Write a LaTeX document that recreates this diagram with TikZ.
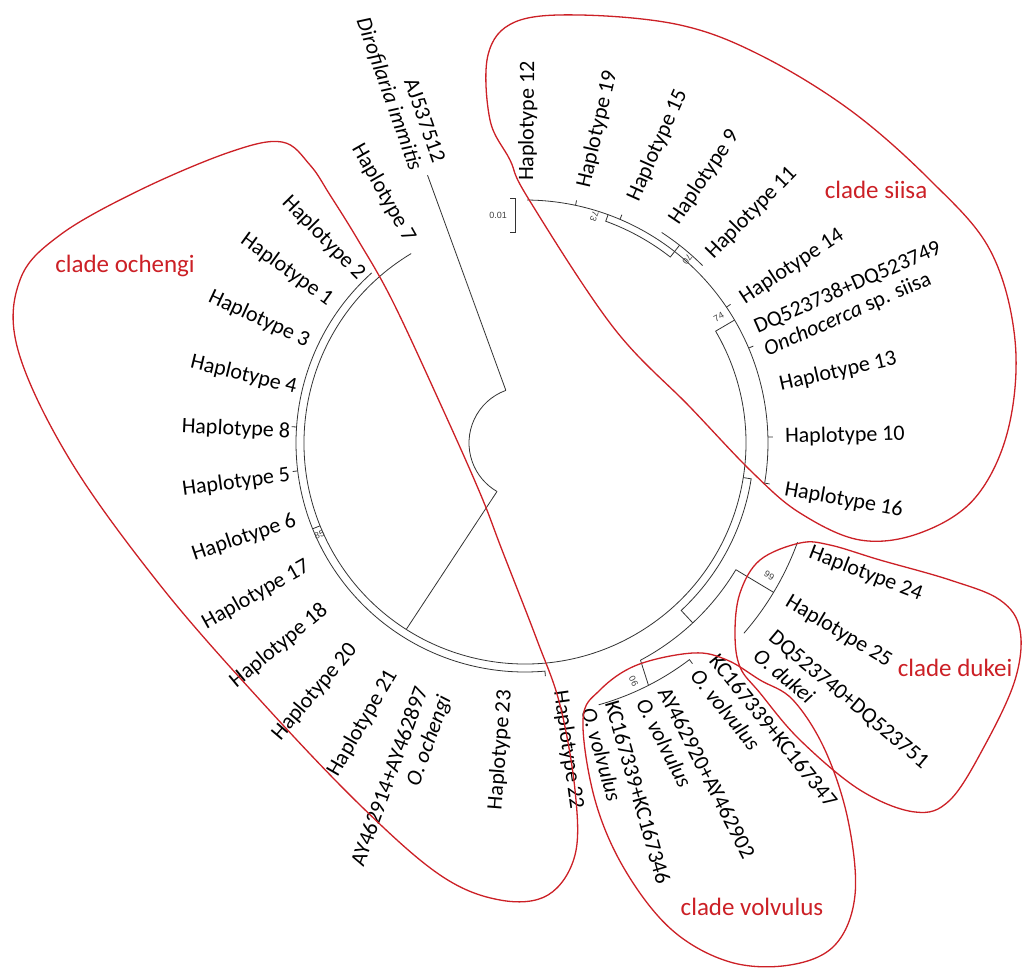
\documentclass[tikz,border=0pt]{standalone}
\usepackage{fontspec}
\setmainfont{Carlito}
\newfontfamily\bootfont{Liberation Sans}
\definecolor{cladered}{RGB}{204,32,38}

% leaf labels: name, angle, radius, text
\newcommand{\leafR}[4]{\node[leaf,anchor=west,align=left,rotate=#2] (#1) at (#2:#3) {#4};}
\newcommand{\leafL}[4]{\node[leaf,anchor=east,align=right,rotate=#2-180] (#1) at (#2:#3) {#4};}

\begin{document}
\begin{tikzpicture}[x=1pt,y=-1pt,
    branch/.style={draw=black!80,line width=0.8pt},
    leaf/.style={font=\fontsize{22}{24.5}\selectfont,inner sep=0pt},
    boot/.style={font=\bootfont\fontsize{9}{10}\selectfont,text=black!75,inner sep=0pt},
    clade/.style={draw=cladered,line width=1.3pt},
    clade label/.style={text=cladered,font=\fontsize{25}{28}\selectfont}]
\useasboundingbox[fill=white] (0,0) rectangle (1026,968);

\begin{scope}[shift={(525,443)},yscale=-1]
    \coordinate (root1) at (110:56);
    \coordinate (root2) at (240:56);
    \coordinate (outtip) at (110:285);
    \coordinate (ingroup) at (237.5:221);
    \coordinate (n74) at (30.4:221);
    \coordinate (n74out) at (30.4:243);
    \coordinate (nright) at (351:221);
    \coordinate (nrightout) at (351:229);
    \coordinate (nlow) at (313:229);
    \coordinate (nlowout) at (313:246);
    \coordinate (ndukei) at (329:246);
    \coordinate (ndukeiout) at (329:290);
    \coordinate (nvolv) at (298:246);
    \coordinate (nvolvout) at (297:272);
    % root and main arcs
    \draw[branch] (root1) arc[start angle=110,end angle=240,radius=56];
    \draw[branch] (root1) -- (outtip);
    \draw[branch] (root2) -- (ingroup);
    \draw[branch] (121:221) arc[start angle=121,end angle=390.4,radius=221];
    \draw[branch] (132:229) arc[start angle=132,end angle=275,radius=229] -- (275:234);
    \draw[branch] (202:221) -- (202:229);
    \foreach \a in {176,187}
        \draw[branch] (\a:229) -- (\a:234);
    % right side
    \draw[branch] (nright) -- (nrightout) arc[start angle=351,end angle=313,radius=229] -- (nlowout);
    \draw[branch] (nvolv) arc[start angle=298,end angle=329,radius=246];
    \draw[branch] (ndukei) -- (ndukeiout);
    \draw[branch] (319:290) arc[start angle=319,end angle=340,radius=290];
    \draw[branch] (nvolv) -- (nvolvout);
    \draw[branch] (285.7:272) arc[start angle=285.7,end angle=307.2,radius=272] -- (307.2:277);
    % clade siisa
    \draw[branch] (n74) -- (n74out);
    \draw[branch] (89.5:243) arc[start angle=89.5,end angle=-9.5,radius=243] -- (-9.5:248);
    \foreach \a in {78,67,34,23,1.4}
        \draw[branch] (\a:243) -- (\a:248);
    \draw[branch] (70:243) -- (70:236) arc[start angle=70,end angle=52,radius=236] -- (52:251);
    \draw[branch] (57:251) arc[start angle=57,end angle=45,radius=251];
    % bootstrap values
    \node[boot,rotate=-110] (b73) at (73:237) {73};
    \node[boot,rotate=-128] (b70) at (48.5:245) {70};
    \node[boot,rotate=30] (b74) at (33:231) {74};
    \node[boot,rotate=22] (b85) at (204:225) {85};
    \node[boot,rotate=-31] (b99) at (-28.5:278) {99};
    \node[boot,rotate=118] (b90) at (-65.5:262) {90};
    % leaves
    \leafR{h12}{89.5}{262}{Haplotype 12}
    \leafR{h19}{77}{262}{Haplotype 19}
    \leafR{h15}{66}{266}{Haplotype 15}
    \leafR{h9}{56}{266}{Haplotype 9}
    \leafR{h11}{45.5}{263}{Haplotype 11}
    \leafR{h14}{33.5}{260}{Haplotype 14}
    \leafR{dqsiisa}{23.7}{257}{DQ523738+DQ523749\\\textit{Onchocerca} sp. siisa}
    \leafR{h13}{12.8}{261}{Haplotype 13}
    \leafR{h10}{1.3}{260}{Haplotype 10}
    \leafR{h16}{-10.2}{264}{Haplotype 16}
    \leafR{h24}{-21}{305}{Haplotype 24}
    \leafR{h25}{-31}{306}{Haplotype 25}
    \leafR{dqdukei}{-40}{312}{DQ523740+DQ523751\\\textit{O. dukei}}
    \leafR{kc47}{-51}{285}{KC167339+KC167347\\\textit{O. volvulus}}
    \leafR{ay02}{-63}{282}{AY462920+AY462902\\\textit{O. volvulus}}
    \leafR{kc46}{-74}{272}{KC167339+KC167346\\\textit{O. volvulus}}
    \leafR{h22}{-82}{250}{Haplotype 22}
    \leafL{diro}{109.5}{294}{AJ537512\\\textit{Dirofilaria immitis}}
    \leafL{h7}{119.5}{233}{Haplotype 7}
    \leafL{h2}{134.5}{233}{Haplotype 2}
    \leafL{h1}{144}{240}{Haplotype 1}
    \leafL{h3}{155}{239}{Haplotype 3}
    \leafL{h4}{166.4}{235}{Haplotype 4}
    \leafL{h8}{177.3}{235}{Haplotype 8}
    \leafL{h5}{187.8}{237}{Haplotype 5}
    \leafL{h6}{198.6}{242}{Haplotype 6}
    \leafL{h17}{209.4}{249}{Haplotype 17}
    \leafL{h18}{219.5}{259}{Haplotype 18}
    \leafL{h20}{229.8}{266}{Haplotype 20}
    \leafL{h21}{239.9}{264}{Haplotype 21}
    \leafL{ayoch}{250}{265}{AY462914+AY462897\\\textit{O. ochengi}}
    \leafL{h23}{265.4}{248}{Haplotype 23}
\end{scope}

% scale bar
\draw[branch] (510,198) -- (515,198) -- (515,232) -- (510,232);
\node[boot,anchor=east] (scale) at (507,215) {0.01};

% clades
\draw[clade] plot[smooth cycle,tension=0.6] coordinates {(330,195) (358,240) (392,300) (440,403)
    (480,493) (502,550) (537,640) (560,705) (575,790) (575,855) (548,895) (500,900) (440,875)
    (360,805) (260,700) (160,585) (70,460) (18,350) (20,280) (60,235) (140,190) (230,152)
    (282,142) (310,165)};
\draw[clade] plot[smooth cycle,tension=0.6] coordinates {(510,160) (528,198) (613,327) (690,407)
    (753,473) (800,513) (860,540) (920,533) (975,498) (1008,430) (1015,340) (990,250) (930,180)
    (850,110) (760,55) (680,25) (580,15) (515,22) (488,55) (490,120)};
\draw[clade] plot[smooth cycle,tension=0.6] coordinates {(800,543) (760,560) (740,593) (735,633)
    (740,667) (760,693) (800,740) (860,790) (915,812) (950,800) (985,745) (1015,680) (1020,630)
    (1000,600) (950,580) (880,560) (830,545)};
\draw[clade] plot[smooth cycle,tension=0.6] coordinates {(583,720) (600,690) (637,665) (693,653)
    (727,660) (760,680) (793,700) (825,750) (848,820) (855,895) (835,945) (790,965) (730,962)
    (672,930) (625,870) (595,800)};
\node[clade label] (lochengi) at (125,266) {clade ochengi};
\node[clade label] (lsiisa) at (876,190) {clade siisa};
\node[clade label] (ldukei) at (955,668) {clade dukei};
\node[clade label] (lvolvulus) at (752,907) {clade volvulus};
\end{tikzpicture}
\end{document}
